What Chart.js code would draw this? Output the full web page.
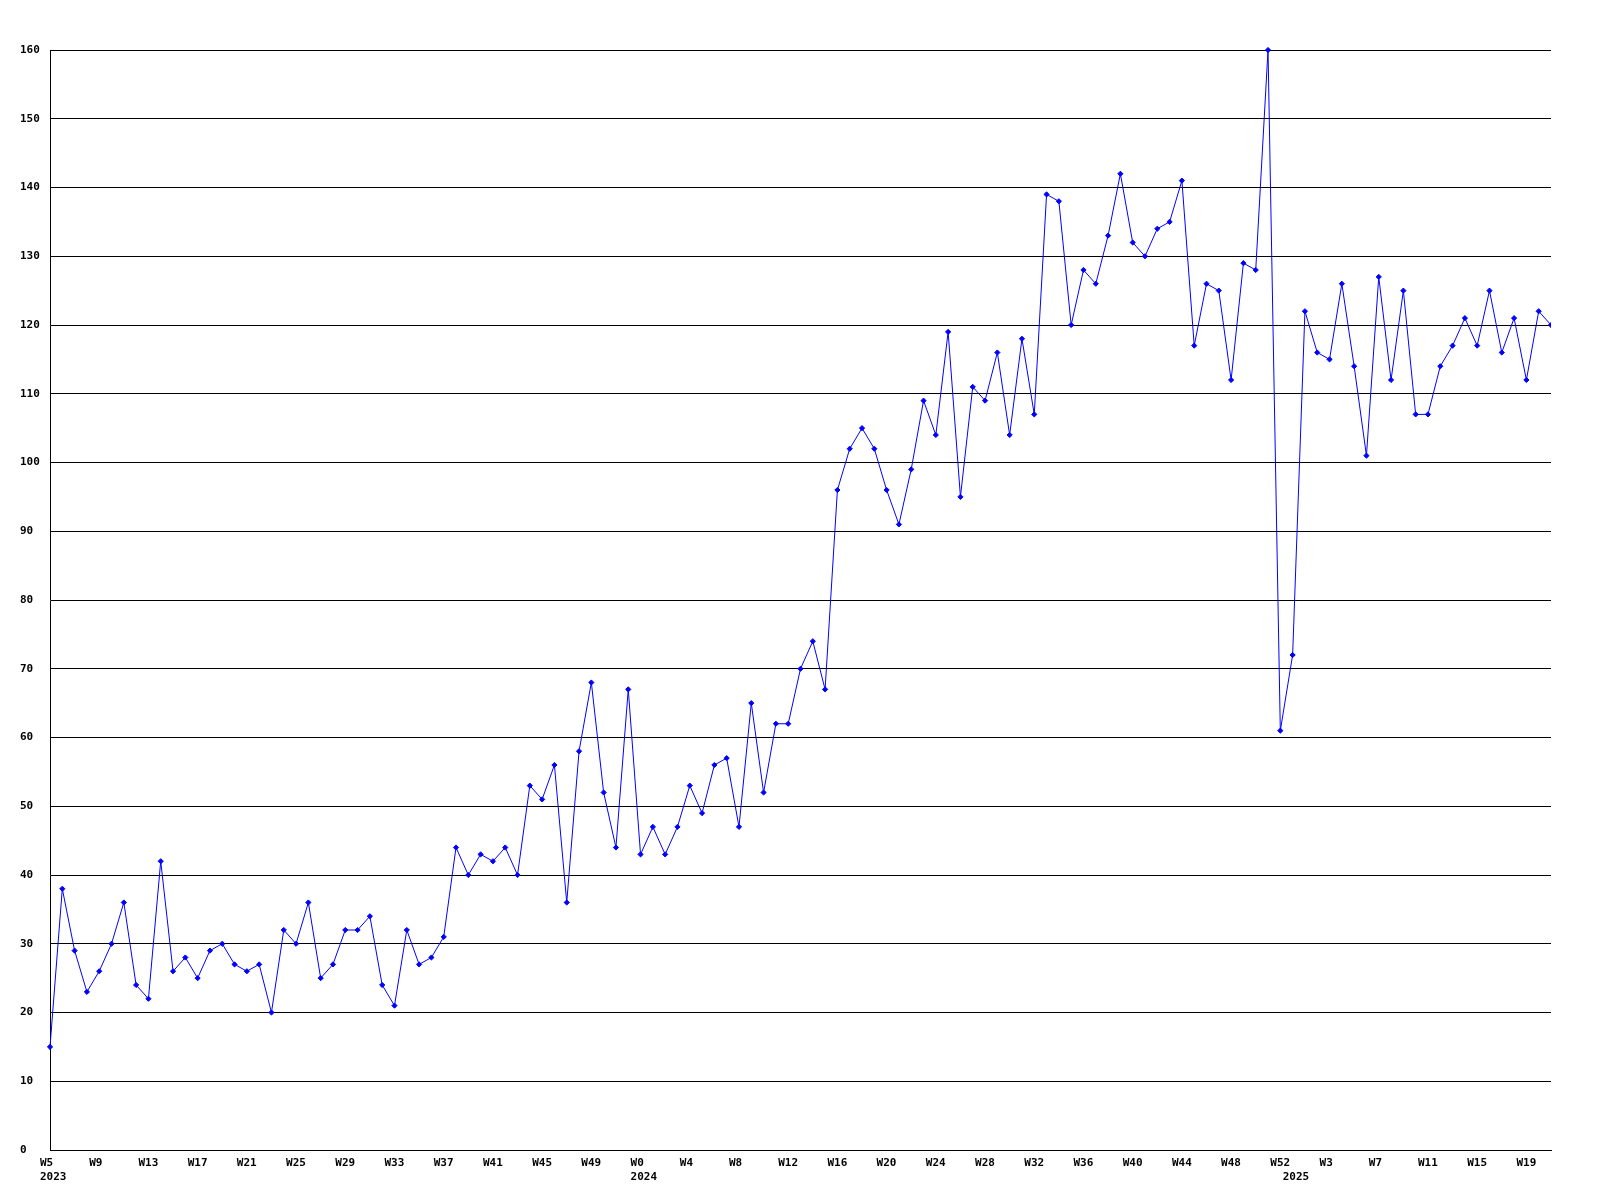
<!DOCTYPE html>
<html>
<head>
<meta charset="utf-8">
<script src="https://cdn.jsdelivr.net/npm/chart.js@4/dist/chart.umd.min.js"></script>
<style>
  body { margin: 0; background: #fff; }
  canvas { display: block; }
</style>
</head>
<body>
<canvas id="weekly" width="1600" height="1200"></canvas>
<script>
// weeks covered per year: [year, first week, last week]
const yearSpans = [[2023, 5, 52], [2024, 0, 52], [2025, 0, 21]];

// weekly counts
const counts2023 = [15, 38, 29, 23, 26, 30, 36, 24, 22, 42,
                    26, 28, 25, 29, 30, 27, 26, 27, 20, 32,
                    30, 36, 25, 27, 32, 32, 34, 24, 21, 32,
                    27, 28, 31, 44, 40, 43, 42, 44, 40, 53,
                    51, 56, 36, 58, 68, 52, 44, 67];
const counts2024 = [43, 47, 43, 47, 53, 49, 56, 57, 47, 65,
                    52, 62, 62, 70, 74, 67, 96, 102, 105, 102,
                    96, 91, 99, 109, 104, 119, 95, 111, 109, 116,
                    104, 118, 107, 139, 138, 120, 128, 126, 133, 142,
                    132, 130, 134, 135, 141, 117, 126, 125, 112, 129,
                    128, 160, 61];
const counts2025 = [72, 122, 116, 115, 126, 114, 101, 127, 112, 125,
                    107, 107, 114, 117, 121, 117, 125, 116, 121, 112,
                    122, 120];

const yMin = 0, yMax = 160, yStep = 10;
const weekTickEvery = 4;

// build categories
let categories = [];
let yearStart = {};
yearSpans.forEach(([y, w0, w1]) => {
   yearStart[categories.length] = y;
   for (let w = w0; w <= w1; w++) categories.push({ year: y, week: w });
});
const values = counts2023.concat(counts2024, counts2025);

const ctx = document.getElementById('weekly').getContext('2d');
const chart = new Chart(ctx, {
   type: 'line',
   data: {
      labels: categories.map(c => c.year + '-W' + c.week),
      datasets: [{
         data: values,
         borderColor: '#0000ff',
         backgroundColor: '#0000ff',
         borderWidth: 1,
         tension: 0,
         pointStyle: 'rectRot',
         pointRadius: 2.6,
         pointBorderWidth: 1,
         clip: { left: 6, top: 6, right: 0, bottom: 6 }
      }]
   },
   options: {
      responsive: false,
      animation: false,
      devicePixelRatio: 1,
      layout: { padding: { left: 20, top: 50, right: 49, bottom: 0 } },
      plugins: { legend: { display: false }, tooltip: { enabled: false } },
      scales: {
         x: {
            type: 'category',
            offset: false,
            grid: { display: false, drawTicks: false },
            border: { display: true, color: '#000', width: 1 },
            afterFit(scale) { scale.height = 50; },
            ticks: {
               autoSkip: false,
               maxRotation: 0,
               minRotation: 0,
               align: 'start',
               labelOffset: -10,
               padding: 6,
               color: '#000',
               font: { family: 'DejaVu Sans Mono', size: 11, weight: 'bold', lineHeight: 14 / 11 },
               callback(val, i) {
                  const c = categories[i];
                  const wk = (i % weekTickEvery === 0) ? 'W' + c.week : '';
                  if (yearStart[i] !== undefined) return [wk, String(yearStart[i])];
                  return wk;
               }
            }
         },
         y: {
            min: yMin,
            max: yMax,
            grid: { color: '#000', lineWidth: 1, drawTicks: false },
            border: { display: true, color: '#000', width: 1 },
            afterFit(scale) { scale.width = 30; },
            ticks: {
               stepSize: yStep,
               crossAlign: 'far',
               color: '#000',
               font: { family: 'DejaVu Sans Mono', size: 11, weight: 'bold' }
            }
         }
      }
   }
});
</script>
</body>
</html>
